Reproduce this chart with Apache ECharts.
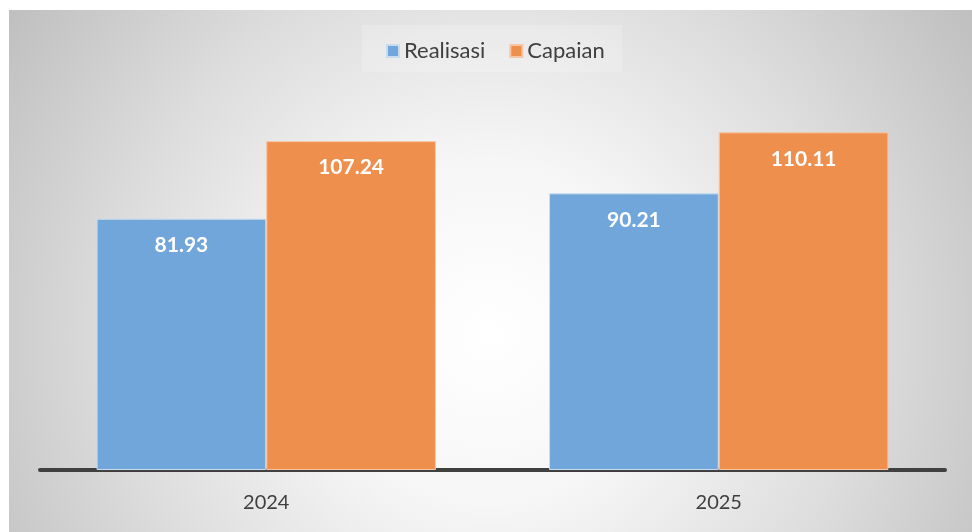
<!DOCTYPE html>
<html><head><meta charset="utf-8">
<script src="https://cdn.jsdelivr.net/npm/echarts@6/dist/echarts.min.js"></script>
<style>html,body{margin:0;padding:0;background:#fff}#c{width:972px;height:532px}</style>
</head><body><div id="c"></div>
<script>
const categories = ['2024', '2025'];
const realisasi = [81.93, 90.21];
const capaian = [107.24, 110.11];
const seriesNames = ['Realisasi', 'Capaian'];

const chart = echarts.init(document.getElementById('c'));
const font = 'Lato, "Open Sans", sans-serif';
const labelCfg = {
  show: true, position: 'insideTop', distance: 16,
  color: '#ffffff', fontWeight: 'bold', fontSize: 21, fontFamily: font
};
chart.setOption({
  animation: false,
  graphic: [{
    type: 'rect', z: -10, silent: true,
    shape: { x: 9, y: 10, width: 963, height: 522 },
    style: {
      fill: new echarts.graphic.RadialGradient(0.5, 0.62, 1.1, [
        { offset: 0, color: '#ffffff' },
        { offset: 0.3, color: '#f6f6f6' },
        { offset: 0.65, color: '#dddddd' },
        { offset: 1, color: '#c0c0c0' }
      ])
    }
  }, {
    type: 'rect', z: -9, silent: true,
    shape: { x: 362, y: 25, width: 260, height: 47 },
    style: { fill: 'rgba(255,255,255,0.2)' }
  }],
  legend: {
    data: seriesNames, top: 35, left: 381,
    itemWidth: 12, itemHeight: 12, itemGap: 24,
    icon: 'rect',
    textStyle: { color: '#404040', fontSize: 22, fontFamily: font }
  },
  grid: { left: 40, right: 27, top: 102, bottom: 62 },
  xAxis: {
    type: 'category', data: categories,
    axisLine: { lineStyle: { color: '#404040', width: 4 } },
    axisTick: { show: false },
    axisLabel: { color: '#404040', fontSize: 20, fontFamily: font, margin: 23 }
  },
  yAxis: {
    type: 'value', min: 0, max: 120, show: false,
    splitLine: { show: false }
  },
  series: [{
    name: seriesNames[0], type: 'bar', data: realisasi,
    barGap: '0%', barCategoryGap: '25%',
    itemStyle: { color: '#70a6da', borderColor: '#c9dcef', borderWidth: 1 },
    label: labelCfg
  }, {
    name: seriesNames[1], type: 'bar', data: capaian,
    itemStyle: { color: '#ee8f4d', borderColor: '#f6c5a3', borderWidth: 1 },
    label: labelCfg
  }]
});
</script></body></html>
